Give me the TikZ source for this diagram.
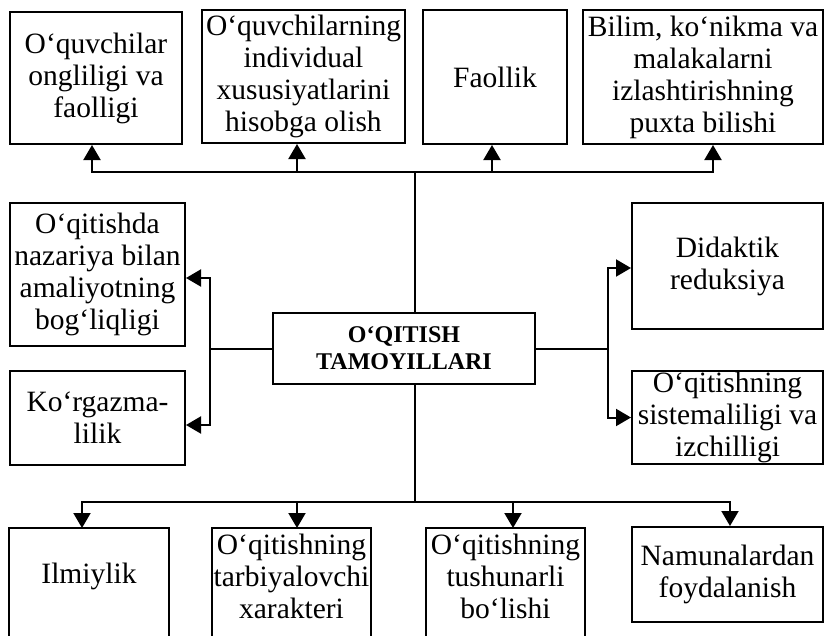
\documentclass[tikz,border=0pt]{standalone}
\usepackage{fontspec}
\setmainfont{Liberation Serif}
\usetikzlibrary{arrows.meta}
\tikzset{
  box/.style={draw, line width=2pt, align=center, inner sep=0pt, font=\fontsize{29.5}{32}\selectfont},
  openbox/.style={box, draw=none},
  link/.style={line width=2pt},
  arr/.style={link, -{Triangle[length=15pt,width=17pt]}},
}
\begin{document}
\begin{tikzpicture}[x=1pt,y=-1pt]
\useasboundingbox (0,0) rectangle (825,635);

\node[box, font=\bfseries\fontsize{24}{27}\selectfont, minimum width=262pt, minimum height=71pt] (markaz) at (404,348.5) {O‘QITISH\\TAMOYILLARI};

% tepa qator
\node[box, minimum width=172pt, minimum height=132pt] (ongli) at (96,78) {O‘quvchilar\\ongliligi va\\faolligi};
\node[box, minimum width=203pt, minimum height=133pt] (indiv) at (303.5,76.5) {O‘quvchilarning\\individual\\xususiyatlarini\\hisobga olish};
\node[box, minimum width=144pt, minimum height=134pt] (faol) at (495,77) {Faollik};
\node[box, minimum width=240pt, minimum height=134pt] (bilim) at (703,77) {Bilim, ko‘nikma va\\malakalarni\\izlashtirishning\\puxta bilishi};

% chap va o'ng
\node[box, minimum width=175pt, minimum height=143pt] (nazar) at (97.5,274.5) {O‘qitishda\\nazariya bilan\\amaliyotning\\bog‘liqligi};
\node[box, minimum width=175pt, minimum height=94pt] (korg) at (97.5,418) {Ko‘rgazma-\\lilik};
\node[box, minimum width=191pt, minimum height=126pt] (reduk) at (727.5,266) {Didaktik\\reduksiya};
\node[box, minimum width=191pt, minimum height=93pt] (tizim) at (727.5,417.5) {O‘qitishning\\sistemaliligi va\\izchilligi};

% pastki qator
\node[openbox, minimum width=158pt, minimum height=94pt] (ilm) at (89,576) {Ilmiylik};
\node[openbox, minimum width=157pt, minimum height=94pt] (tarb) at (291.5,576) {O‘qitishning\\tarbiyalovchi\\xarakteri};
\node[openbox, minimum width=157pt, minimum height=94pt] (tush) at (505.5,576) {O‘qitishning\\tushunarli\\bo‘lishi};
\node[box, minimum width=191pt, minimum height=95pt] (namuna) at (727.5,574.5) {Namunalardan\\foydalanish};
\foreach \b in {ilm,tarb,tush}
  \draw[link] ([yshift=-12pt]\b.south west) |- (\b.north east) -- ([yshift=-12pt]\b.south east);

\coordinate (tepa) at (415,172);
\coordinate (past) at (415,502);
\coordinate (chap) at (210,348.5);
\coordinate (ong) at (608,348.5);

\draw[link] (tepa) -- (tepa |- markaz.north);
\draw[link] (tepa |- markaz.south) -- (past);
\draw[arr] (tepa) -| ([xshift=-4pt]ongli.south);
\draw[arr] (tepa) -| ([xshift=-6.5pt]indiv.south);
\draw[arr] (tepa) -| ([xshift=-3pt]faol.south);
\draw[arr] (tepa) -| ([xshift=10pt]bilim.south);

\draw[link] (markaz.west) -- (chap);
\draw[arr] (chap) |- ([yshift=-3.5pt]nazar.east);
\draw[arr] (chap) |- ([yshift=-7pt]korg.east);
\draw[link] (markaz.east) -- (ong);
\draw[arr] (ong) |- ([yshift=-2pt]reduk.west);
\draw[arr] (ong) |- (tizim.west);

\draw[arr] (past) -| ([xshift=-7pt]ilm.north);
\draw[arr] (past) -| ([xshift=5.5pt]tarb.north);
\draw[arr] (past) -| ([xshift=7.5pt]tush.north);
\draw[arr] (past) -| ([xshift=2.5pt]namuna.north);
\end{tikzpicture}
\end{document}
